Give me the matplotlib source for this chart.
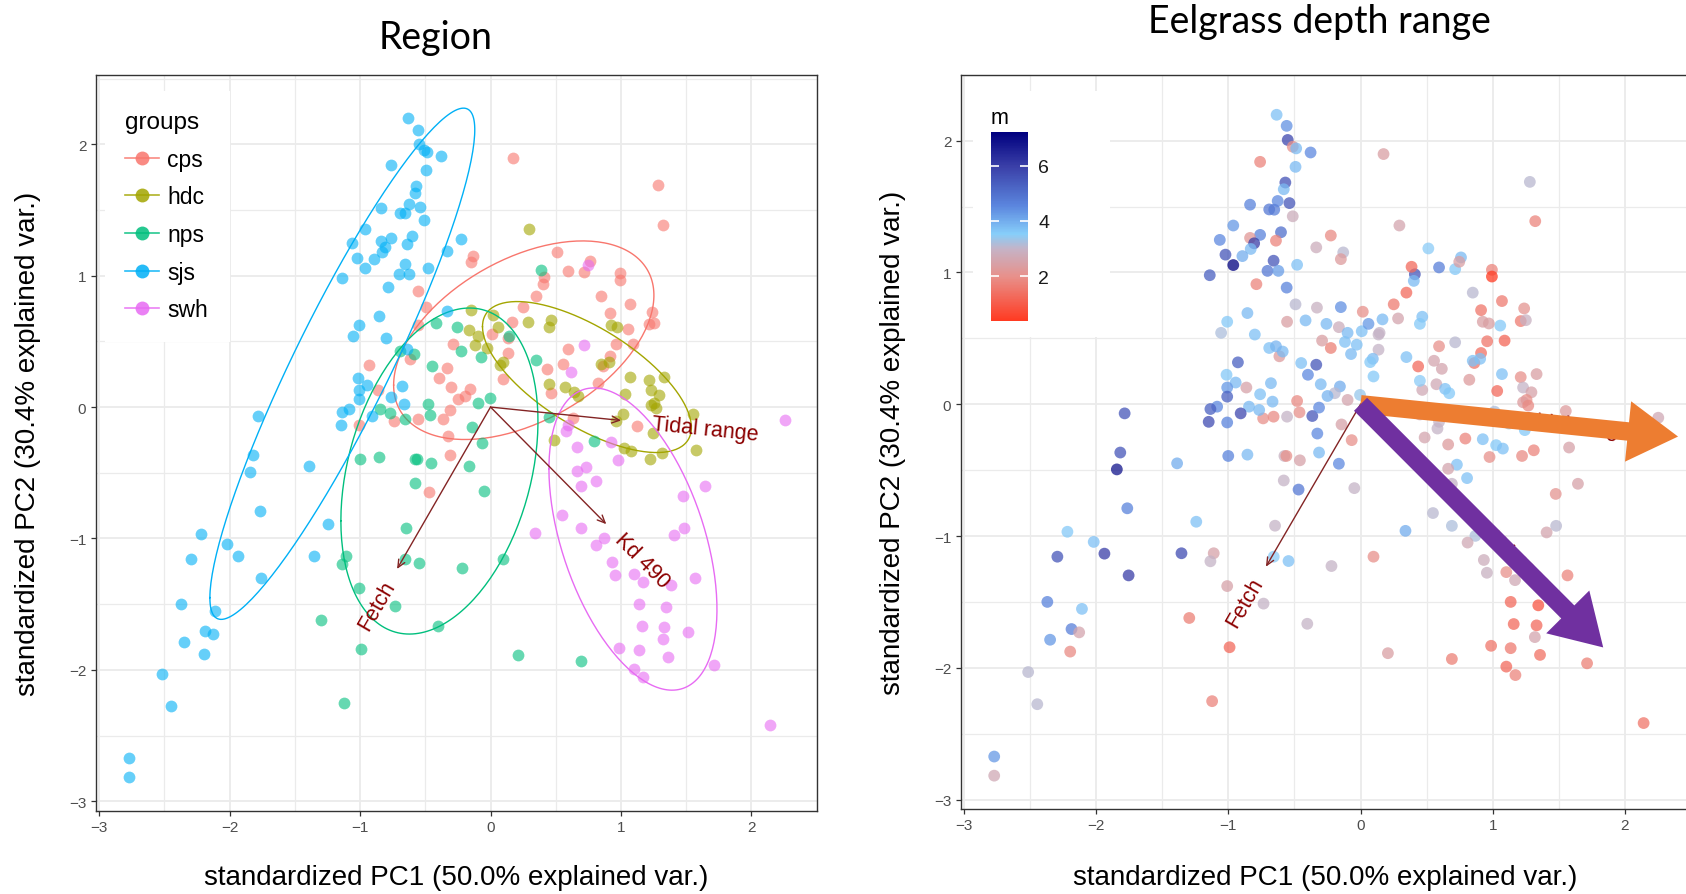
import numpy as np
import matplotlib.pyplot as plt
from matplotlib.colors import LinearSegmentedColormap, Normalize
from matplotlib.cm import ScalarMappable
from matplotlib.lines import Line2D
from matplotlib.patches import Rectangle, FancyArrow

plt.rcParams['font.family'] = ['Liberation Sans', 'DejaVu Sans']

# PCA scores (standardized PC1 / PC2) and eelgrass depth range (m), by region
cps_pc1 = [0.174, 1.281, 1.322, -0.131, -0.149, 0.513, 0.594, 0.716, 0.760, 0.994,
           0.994, 0.411, 0.403, 0.347, 0.849, 1.070, 0.912, 1.238, 1.212, 1.251,
           0.251, 0.166, 0.009, 0.136, 1.057, 0.958, 1.090, 0.594, 0.136, 0.556,
           0.436, 0.098, 0.912, 0.861, 0.823, 0.467, -0.156, -0.195, 1.123, 0.632,
           -0.559, -0.492, -0.556, -0.291, -0.928, -0.614, -0.335, -0.398, -0.301, -0.250,
           -0.864, -0.556, -0.365, -0.314, -1.009, -0.737, -0.327, -0.314, -0.469]
cps_pc2 = [1.898, 1.687, 1.389, 1.152, 1.101, 1.182, 1.038, 1.025, 1.114, 1.020,
           0.969, 0.986, 0.936, 0.847, 0.847, 0.783, 0.714, 0.727, 0.631, 0.638,
           0.758, 0.644, 0.554, 0.529, 0.597, 0.478, 0.483, 0.440, 0.414, 0.330,
           0.287, 0.211, 0.389, 0.313, 0.186, 0.109, 0.135, 0.084, -0.146, -0.082,
           0.885, 0.758, 0.626, 0.483, 0.318, 0.364, 0.300, 0.224, 0.152, 0.063,
           0.127, -0.094, -0.089, -0.025, -0.138, -0.107, -0.222, -0.366, -0.647]
cps_m = [2.4, 3.1, 1.8, 3.1, 2.3, 3.5, 4.7, 3.6, 3.8, 1.8,
         0.4, 5.5, 3.8, 1.3, 3.1, 1.6, 1.5, 2.1, 1.6, 2.9,
         1.6, 3.8, 3.7, 3.0, 3.6, 1.5, 1.2, 2.0, 3.0, 2.6,
         1.3, 3.6, 1.4, 1.5, 2.3, 2.7, 4.0, 3.1, 3.5, 2.5,
         4.6, 3.1, 2.4, 2.4, 5.3, 2.3, 5.5, 4.5, 3.8, 3.9,
         2.5, 3.0, 5.5, 4.5, 4.6, 2.0, 4.5, 3.8, 4.8]

hdc_pc1 = [0.294, -0.149, 0.017, 0.284, 0.467, 0.449, -0.164, -0.098, -0.118, -0.029,
           0.060, 0.925, 0.971, 0.093, 0.073, 0.849, 0.905, 0.449, 0.574, 0.640,
           0.671, 1.070, 1.212, 1.332, 1.034, 1.230, 1.293, 1.256, 1.230, 1.269,
           1.014, 0.958, 1.553, 1.243, 0.485, 1.026, 1.077, 1.222, 1.311, 1.578]
hdc_pc2 = [1.356, 0.737, 0.702, 0.651, 0.664, 0.610, 0.585, 0.542, 0.473, 0.452,
           0.610, 0.626, 0.613, 0.345, 0.320, 0.330, 0.345, 0.178, 0.152, 0.117,
           0.084, 0.229, 0.206, 0.229, 0.101, 0.127, 0.091, 0.033, 0.015, -0.010,
           -0.056, -0.107, -0.051, -0.196, -0.252, -0.310, -0.336, -0.392, -0.349, -0.328]
hdc_m = [2.6, 4.4, 2.0, 2.6, 3.7, 3.6, 2.8, 3.8, 3.7, 3.7,
         4.3, 2.4, 2.4, 3.8, 3.6, 3.7, 3.7, 3.5, 2.7, 3.7,
         3.6, 3.7, 2.0, 2.4, 1.3, 3.0, 2.5, 2.0, 2.3, 1.9,
         3.2, 2.5, 2.3, 3.6, 2.6, 3.6, 3.7, 1.9, 1.8, 2.5]

nps_pc1 = [-1.001, -0.856, -0.576, -0.561, -0.459, -0.581, -0.647, -1.111, -1.136, -0.657,
           -0.545, -0.220, -1.009, -0.734, -1.296, -0.403, -0.991, -1.123, -0.067, -0.164,
           -0.047, 0.098, 0.207, 0.691, 0.793, 0.386, -0.258, 0.144, -0.225, -0.072,
           0.347, -0.098, -0.004, 0.449, -0.144, -0.416, -0.449, -0.480, -0.462, -0.844,
           -0.767, -0.658, -0.691, -0.589]
nps_pc2 = [-0.392, -0.382, -0.392, -0.392, -0.425, -0.578, -0.921, -1.130, -1.191, -1.156,
           -1.189, -1.227, -1.379, -1.512, -1.621, -1.665, -1.843, -2.252, -0.272, -0.451,
           -0.636, -1.156, -1.888, -1.932, -0.260, 1.043, 0.610, 0.542, 0.427, 0.381,
           0.358, 0.033, 0.071, -0.077, -0.153, 0.636, 0.313, 0.025, -0.061, -0.018,
           -0.043, -0.094, 0.427, 0.400]
nps_m = [4.6, 3.8, 2.9, 2.0, 2.5, 3.0, 3.0, 2.5, 3.0, 3.5,
         3.7, 3.0, 2.5, 3.0, 1.7, 3.0, 1.3, 1.8, 2.0, 4.5,
         3.0, 2.0, 2.4, 1.7, 1.8, 1.3, 3.8, 3.0, 1.7, 3.8,
         3.7, 2.6, 3.4, 2.8, 2.5, 3.8, 3.7, 1.9, 2.0, 3.8,
         3.8, 1.9, 3.7, 3.8]

sjs_pc1 = [-0.635, -0.559, -0.551, -0.513, -0.487, -0.378, -0.760, -0.492, -0.569, -0.581,
           -0.836, -0.627, -0.653, -0.691, -0.538, -0.513, -0.963, -1.065, -0.602, -0.640,
           -0.760, -0.836, -0.805, -0.831, -1.022, -0.894, -0.963, -0.658, -0.704, -0.622,
           -0.480, -1.141, -0.788, -0.335, -0.225, -0.856, -1.009, -1.055, -0.800, -0.330,
           -0.640, -1.014, -0.945, -1.009, -1.009, -0.678, -0.760, -0.666, -1.085, -1.136,
           -1.149, -0.907, -1.785, -1.818, -1.844, -1.388, -1.765, -1.243, -2.218, -2.019,
           -2.294, -1.938, -1.355, -1.755, -2.370, -2.108, -2.187, -2.129, -2.349, -2.197,
           -2.515, -2.446, -2.772, -2.772]
sjs_pc2 = [2.196, 2.112, 2.005, 1.954, 1.941, 1.910, 1.839, 1.801, 1.682, 1.631,
           1.514, 1.542, 1.476, 1.478, 1.526, 1.426, 1.356, 1.247, 1.305, 1.241,
           1.285, 1.262, 1.221, 1.178, 1.135, 1.124, 1.056, 1.089, 1.012, 1.012,
           1.058, 0.979, 0.911, 1.190, 1.280, 0.692, 0.626, 0.542, 0.529, 0.733,
           0.440, 0.224, 0.165, 0.127, 0.058, 0.160, 0.076, 0.020, -0.018, -0.036,
           -0.133, -0.069, -0.069, -0.366, -0.494, -0.448, -0.789, -0.891, -0.967, -1.044,
           -1.156, -1.133, -1.130, -1.298, -1.499, -1.552, -1.705, -1.730, -1.786, -1.876,
           -2.031, -2.275, -2.672, -2.817]
sjs_m = [3.7, 4.4, 5.8, 2.0, 3.8, 4.5, 1.8, 3.8, 5.6, 3.8,
         4.6, 4.5, 4.7, 4.8, 5.5, 2.8, 4.3, 4.5, 5.0, 1.8,
         4.6, 2.2, 6.0, 3.8, 5.5, 4.0, 7.2, 5.5, 4.8, 4.2,
         3.7, 5.3, 1.8, 2.8, 1.9, 3.8, 3.6, 3.2, 3.7, 2.9,
         3.9, 3.6, 3.8, 4.3, 5.3, 3.8, 3.7, 3.8, 4.5, 5.3,
         5.7, 5.8, 5.5, 5.5, 6.8, 4.0, 4.6, 3.7, 3.6, 3.7,
         5.5, 6.0, 5.7, 6.0, 4.6, 3.7, 4.7, 2.6, 4.3, 1.9,
         3.1, 3.1, 4.3, 2.7]

swh_pc1 = [0.663, 0.729, 0.663, 0.806, 0.691, 0.976, 0.925, 1.645, 1.477, 0.548,
           0.691, 0.869, 0.810, 1.408, 1.480, 0.340, 0.933, 0.956, 1.103, 1.169,
           1.383, 1.566, 1.136, 1.345, 1.159, 1.332, 1.319, 1.510, 0.988, 1.136,
           1.358, 1.714, 1.103, 1.172, 2.142, 0.747, 0.716, 0.615, 2.253, 0.594,
           0.582]
swh_pc2 = [-0.305, -0.458, -0.489, -0.560, -0.603, -0.400, -0.265, -0.603, -0.680, -0.825,
           -0.922, -0.998, -1.049, -0.972, -0.922, -0.960, -1.181, -1.278, -1.273, -1.334,
           -1.354, -1.298, -1.499, -1.525, -1.667, -1.677, -1.766, -1.710, -1.832, -1.850,
           -1.901, -1.965, -1.990, -2.054, -2.418, 1.081, 0.470, 0.269, -0.102, -0.133,
           -0.184]
swh_m = [2.3, 3.7, 2.6, 3.7, 3.0, 2.0, 3.7, 2.5, 2.1, 3.1,
         3.2, 3.2, 2.7, 2.6, 3.1, 4.0, 2.8, 2.9, 2.0, 2.7,
         2.2, 1.8, 1.3, 0.9, 1.3, 1.3, 2.6, 1.6, 1.5, 1.6,
         1.4, 1.7, 1.3, 1.8, 1.5, 2.4, 3.1, 2.6, 2.7, 3.0,
         3.0]

groups = ['cps', 'hdc', 'nps', 'sjs', 'swh']
group_pc1 = [cps_pc1, hdc_pc1, nps_pc1, sjs_pc1, swh_pc1]
group_pc2 = [cps_pc2, hdc_pc2, nps_pc2, sjs_pc2, swh_pc2]
group_m = [cps_m, hdc_m, nps_m, sjs_m, swh_m]
group_colors = ['#F8766D', '#A3A500', '#00BF7D', '#00B0F6', '#E76BF3']

# variable loadings
var_names = ['Tidal range', 'Kd 490', 'Fetch']
load_pc1 = [1.001, 0.887, -0.716]
load_pc2 = [-0.102, -0.891, -1.232]
label_mult = [1.64, 1.31, 1.22]

# highlighted loadings on the depth panel
emph_names = ['Tidal range', 'Kd 490']
emph_scale = [2.4, 2.07]
emph_colors = ['#ED7D31', '#7030A0']

# depth colour scale
depth_pos = [0.0, 0.233, 0.38, 0.46, 0.61, 0.82, 1.0]
depth_cols = ['#FF3B22', '#E8908A', '#C5B3C6', '#87CEFA', '#5B86DE', '#3A3FA8', '#00007F']


def ellipse(x, y, prob=0.68, n=200):
    x = np.asarray(x)
    y = np.asarray(y)
    r = np.linalg.cholesky(np.cov(x, y)).T
    t = np.linspace(-np.pi, np.pi, n)
    circ = np.column_stack([np.cos(t), np.sin(t)])
    e = circ @ r * np.sqrt(-2 * np.log(1 - prob)) + [x.mean(), y.mean()]
    return e[:, 0], e[:, 1]


def padded(vals, f=0.05):
    lo, hi = min(vals), max(vals)
    d = (hi - lo) * f
    return lo - d, hi + d


def style_axes(ax):
    ax.set_xticks([-3, -2, -1, 0, 1, 2])
    ax.set_yticks([-3, -2, -1, 0, 1, 2])
    ax.set_xticks(np.arange(-2.5, 2.6, 1.0), minor=True)
    ax.set_yticks(np.arange(-2.5, 2.6, 1.0), minor=True)
    ax.grid(which='major', color='#EBEBEB', lw=1.3)
    ax.grid(which='minor', color='#EBEBEB', lw=0.9)
    ax.set_axisbelow(True)
    for s in ax.spines.values():
        s.set_color('#333333')
        s.set_linewidth(1.0)
    ax.tick_params(which='major', length=3.5, width=0.9, color='#333333',
                   labelcolor='#4D4D4D', labelsize=11)
    ax.tick_params(which='minor', length=0)
    ax.set_xlabel('standardized PC1 (50.0% explained var.)', fontsize=20)
    ax.set_ylabel('standardized PC2 (30.4% explained var.)', fontsize=20)
    ax.xaxis.label.set_va('center')
    ax.yaxis.label.set_va('center')


def draw_loadings(ax):
    for name, lx, ly, k in zip(var_names, load_pc1, load_pc2, label_mult):
        ax.annotate('', xy=(lx, ly), xytext=(0, 0), zorder=3,
                    arrowprops=dict(arrowstyle='->,head_length=0.55,head_width=0.25',
                                    color='#832424', lw=1.0, shrinkA=0, shrinkB=0))
        ang = np.degrees(np.arctan(ly / lx))
        ax.text(lx * k, ly * k, name, color='#8B0000', fontsize=15.5, rotation=ang,
                rotation_mode='anchor', ha='center', va='center', zorder=3)


W, H = 1686, 895
fig = plt.figure(figsize=(W / 100, H / 100), dpi=100)
ax1 = fig.add_axes([96 / W, 1 - 811.7 / H, 721.3 / W, 736 / H])
ax2 = fig.add_axes([961 / W, 1 - 809.7 / H, 730.5 / W, 734 / H])

all_pc1 = np.concatenate(group_pc1)
all_pc2 = np.concatenate(group_pc2)
all_m = np.concatenate(group_m)

# ---- left: region ----
ell_x, ell_y = [], []
for g, x, y, c in zip(groups, group_pc1, group_pc2, group_colors):
    ax1.scatter(x, y, s=72, color=c, alpha=0.6, lw=0, zorder=2)
    ex, ey = ellipse(x, y)
    ax1.plot(ex, ey, color=c, lw=1.0, zorder=2)
    ell_x.extend(ex)
    ell_y.extend(ey)
draw_loadings(ax1)
ax1.set_xlim(padded(list(all_pc1) + ell_x))
ax1.set_ylim(padded(list(all_pc2) + ell_y))
style_axes(ax1)
ax1.xaxis.set_label_coords(0.5, (811.7 - 878.5) / 736)
ax1.yaxis.set_label_coords((28 - 96) / 721.3, 0.5)

ax1.add_patch(Rectangle((0.0125, 0.637), 0.173, 0.341, transform=ax1.transAxes,
                        facecolor='white', edgecolor='none', zorder=1))
handles = [Line2D([], [], color=c, lw=1.2, marker='o', markersize=10,
                  markeredgewidth=0, alpha=0.85) for c in group_colors]
ax1.legend(handles, groups, title='groups', loc='upper left',
           bbox_to_anchor=(0.040, 0.9507), frameon=False, fontsize=16.5,
           title_fontsize=17.5, handlelength=1.5, handletextpad=0.35,
           labelspacing=0.64, borderpad=0, borderaxespad=0, alignment='left')

# ---- right: eelgrass depth range ----
cmap = LinearSegmentedColormap.from_list('depth', list(zip(depth_pos, depth_cols)))
norm = Normalize(vmin=all_m.min(), vmax=all_m.max())
ax2.scatter(all_pc1, all_pc2, c=all_m, cmap=cmap, norm=norm, s=72, alpha=0.75,
            lw=0, zorder=2)
draw_loadings(ax2)
for name, k, c in zip(emph_names, emph_scale, emph_colors):
    i = var_names.index(name)
    ax2.add_patch(FancyArrow(0, 0, load_pc1[i] * k, load_pc2[i] * k, width=0.14,
                             head_width=0.46, head_length=0.38,
                             length_includes_head=True, color=c, lw=0, zorder=5))
ax2.set_xlim(padded(all_pc1))
ax2.set_ylim(padded(all_pc2))
style_axes(ax2)
ax2.xaxis.set_label_coords((1325 - 961) / 730.5, (809.7 - 878.5) / 734)
ax2.yaxis.set_label_coords((892.5 - 961) / 730.5, 0.5)

ax2.add_patch(Rectangle((0.0164, 0.6427), 0.1876, 0.3353, transform=ax2.transAxes,
                        facecolor='white', edgecolor='none', zorder=1))
cax = fig.add_axes([990.7 / W, 1 - 321.7 / H, 37.6 / W, 188.4 / H])
cb = fig.colorbar(ScalarMappable(norm=norm, cmap=cmap), cax=cax, ticks=[2, 4, 6])
cb.outline.set_visible(False)
cax.tick_params(axis='y', direction='in', length=6, width=1.2, color='white',
                left=True, right=True, labelleft=False, labelright=True,
                labelsize=14, pad=7, labelcolor='#1A1A1A')
cax.set_title('m', loc='left', fontsize=15.5, pad=7)

# titles
fig.text(435.5 / W, 1 - 37.6 / H, 'Region', ha='center', va='center',
         fontsize=27, family=['Lato', 'DejaVu Sans'])
fig.text(1319 / W, 1 - 21.5 / H, 'Eelgrass depth range', ha='center', va='center',
         fontsize=27, family=['Lato', 'DejaVu Sans'])

fig.savefig('out.png', dpi=100)
